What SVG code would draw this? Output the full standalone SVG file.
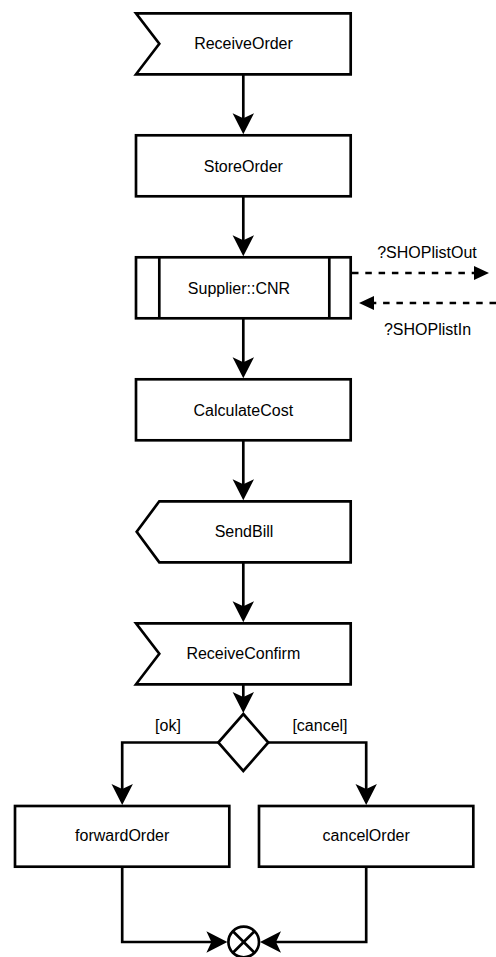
<svg xmlns="http://www.w3.org/2000/svg" width="496" height="957" viewBox="0 0 496 957">
<style>
.s{fill:#fff;stroke:#000;stroke-width:2.67;stroke-linejoin:miter}
.t{font-family:"Liberation Sans",Arial,sans-serif;font-size:16px;fill:#000;text-anchor:middle}
.c{fill:none;stroke:#000;stroke-width:2.67}
.d{fill:none;stroke:#000;stroke-width:2.67;stroke-dasharray:6.5 6.8}
</style>
<defs>
<marker id="a" viewBox="0 0 22 22" refX="11" refY="11" markerWidth="22" markerHeight="22" markerUnits="userSpaceOnUse" orient="auto">
<path d="M0,0.3 L21,11 L0,21.7 L5,11 Z" fill="#000"/>
</marker>
<marker id="b" viewBox="0 0 16 16" refX="8" refY="8" markerWidth="16" markerHeight="16" markerUnits="userSpaceOnUse" orient="auto">
<path d="M0,1 L15,8 L0,15 Z" fill="#000"/>
</marker>
</defs>
<rect width="496" height="957" fill="#fff"/>
<g id="ReceiveOrder">
<path class="s" d="M136,13.3 H350.7 V74.3 H136 L159.3,43.8 Z"/>
<text class="t" x="243.5" y="49.3">ReceiveOrder</text>
</g>
<g id="StoreOrder">
<rect class="s" x="136" y="135.3" width="214.7" height="61"/>
<text class="t" x="243.3" y="171.8">StoreOrder</text>
</g>
<g id="SupplierCNR">
<rect class="s" x="136" y="257.3" width="214.7" height="61"/>
<line class="c" x1="159.3" y1="257.3" x2="159.3" y2="318.3"/>
<line class="c" x1="329.3" y1="257.3" x2="329.3" y2="318.3"/>
<text class="t" x="239" y="293.8">Supplier::CNR</text>
</g>
<g id="CalculateCost">
<rect class="s" x="136" y="379.3" width="214.7" height="61"/>
<text class="t" x="243.3" y="415.8">CalculateCost</text>
</g>
<g id="SendBill">
<path class="s" d="M159.3,501.3 H350.7 V562.3 H159.3 L136.7,531.8 Z"/>
<text class="t" x="244" y="537.3">SendBill</text>
</g>
<g id="ReceiveConfirm">
<path class="s" d="M136,623.3 H350.7 V684.3 H136 L159.3,653.8 Z"/>
<text class="t" x="243.3" y="659.3">ReceiveConfirm</text>
</g>
<g id="Decision">
<path class="s" d="M243.3,714 L268.3,742.5 L243.3,771 L218.3,742.5 Z"/>
</g>
<g id="forwardOrder">
<rect class="s" x="15" y="806" width="214.3" height="60.7"/>
<text class="t" x="122.2" y="841">forwardOrder</text>
</g>
<g id="cancelOrder">
<rect class="s" x="259" y="806" width="214.3" height="60.7"/>
<text class="t" x="366.2" y="841">cancelOrder</text>
</g>
<g id="Merge">
<circle class="s" cx="243.7" cy="942" r="15.3"/>
<path class="c" d="M232.9,931.2 L254.5,952.8 M254.5,931.2 L232.9,952.8"/>
</g>
<g id="connectors">
<path class="c" d="M243.3,74.3 V124.3" marker-end="url(#a)"/>
<path class="c" d="M243.3,196.3 V246.3" marker-end="url(#a)"/>
<path class="c" d="M243.3,318.3 V368.3" marker-end="url(#a)"/>
<path class="c" d="M243.3,440.3 V490.3" marker-end="url(#a)"/>
<path class="c" d="M243.3,562.3 V612.3" marker-end="url(#a)"/>
<path class="c" d="M243.3,684.3 V703" marker-end="url(#a)"/>
<path class="c" d="M218.3,742.5 H122.2 V795" marker-end="url(#a)"/>
<path class="c" d="M268.3,742.5 H366.2 V795" marker-end="url(#a)"/>
<path class="c" d="M122.2,866.7 V942 H217.4" marker-end="url(#a)"/>
<path class="c" d="M366.2,866.7 V942 H270" marker-end="url(#a)"/>
<path class="d" d="M352,273 H482" marker-end="url(#b)"/>
<path class="d" d="M496,303 H366" marker-end="url(#b)"/>
<text class="t" x="427" y="258">?SHOPlistOut</text>
<text class="t" x="427.5" y="335">?SHOPlistIn</text>
<text class="t" x="168" y="731">[ok]</text>
<text class="t" x="320" y="731">[cancel]</text>
</g>
</svg>
